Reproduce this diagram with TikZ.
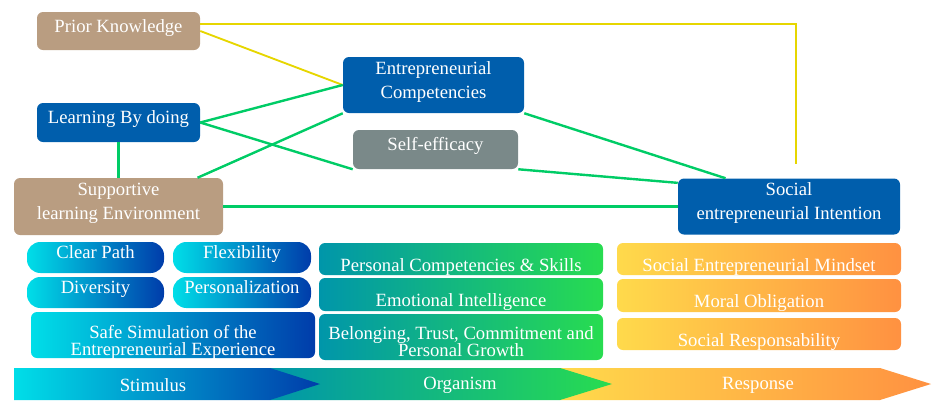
\documentclass[tikz,border=0pt]{standalone}
\usepackage{fontspec}
\setmainfont{Liberation Serif}
\definecolor{tanbg}{RGB}{185,157,129}
\definecolor{bluebg}{RGB}{0,94,172}
\definecolor{graybg}{RGB}{122,137,137}
\definecolor{greenln}{RGB}{0,204,102}
\definecolor{yellowln}{RGB}{230,214,0}
\definecolor{cyanA}{RGB}{0,222,232}
\definecolor{blueA}{RGB}{0,60,170}
\definecolor{tealA}{RGB}{0,150,170}
\definecolor{greenA}{RGB}{40,220,80}
\definecolor{yellowA}{RGB}{255,218,75}
\definecolor{orangeA}{RGB}{255,145,65}
\newcommand\tightlines{\fontsize{14}{12.5}\selectfont\lineskiplimit-20pt\relax}
\begin{document}
\begin{tikzpicture}[x=0.75pt,y=-0.75pt,
    box/.style={rounded corners=4.5pt,text=white,align=center,inner sep=0pt,
        font=\fontsize{14}{18}\selectfont},
    lbl/.style={text=white,align=center,inner sep=0pt,font=\fontsize{14}{18}\selectfont},
    tanbox/.style={box,fill=tanbg},
    bluebox/.style={box,fill=bluebg},
    graybox/.style={box,fill=graybg},
    upper/.style={text height=10pt,text depth=8.5pt},
    stimbox/.style={box,upper,left color=cyanA,right color=blueA},
    orgbox/.style={box,left color=tealA,right color=greenA,minimum width=213pt,text height=18pt,text depth=0pt},
    resbox/.style={box,left color=yellowA,right color=orangeA,minimum width=213pt,text height=18pt,text depth=0pt},
    gline/.style={greenln,line width=1.8pt},
    yline/.style={yellowln,line width=1.4pt},
    bandtext/.style={text=white,font=\fontsize{14}{18}\selectfont}]
    \useasboundingbox (0,0) rectangle (944,411);
    %% Constructs
    \node[tanbox,upper,minimum width=122.25pt,minimum height=28.5pt] (prior) at (118.5,31) {Prior Knowledge};
    \node[bluebox,upper,minimum width=122.25pt,minimum height=29.25pt] (learn) at (118.5,122.5) {Learning By doing};
    \node[tanbox,minimum width=156.75pt,minimum height=42.75pt,
        label={[lbl,yshift=2.5pt]center:{Supportive\\learning Environment}}] (support) at (118.5,206.5) {};
    \node[bluebox,minimum width=135.75pt,minimum height=42pt,
        label={[lbl,yshift=2.5pt]center:{Entrepreneurial\\Competencies}}] (comp) at (433.5,85) {};
    \node[graybox,upper,minimum width=123.75pt,minimum height=29.25pt] (self) at (435.5,149.5) {Self-efficacy};
    \node[bluebox,minimum width=166.5pt,minimum height=42pt,
        label={[lbl,yshift=2.5pt]center:{Social\\entrepreneurial Intention}}] (intent) at (789,206.5) {};
    \coordinate (yend) at (796,164);
    %% Relations
    \draw[yline] (prior.5) -| (yend);
    \draw[yline] (prior.east) -- (comp.west);
    \draw[gline] (learn.east) -- (comp.west);
    \draw[gline] (learn.east) -- (self.south west);
    \draw[gline] (learn.south) -- (support.north);
    \draw[gline] (support.20) -- (comp.south west);
    \draw[gline] (support.east) -- (intent.west);
    \draw[gline] (comp.south east) -- (intent.156);
    \draw[gline] (self.south east) -- (intent.168);
    %% Stimulus
    \node[stimbox,rounded corners=10pt,minimum width=102.75pt,minimum height=23.25pt] (clear) at (95.5,257.5) {Clear Path};
    \node[stimbox,rounded corners=10pt,minimum width=103.5pt,minimum height=23.25pt] (flex) at (242,257.5) {Flexibility};
    \node[stimbox,rounded corners=10pt,minimum width=102.75pt,minimum height=23.25pt] (diverse) at (95.5,292.5) {Diversity};
    \node[stimbox,rounded corners=10pt,minimum width=103.5pt,minimum height=23.25pt] (person) at (242,292.5) {Personalization};
    \node[box,left color=cyanA,right color=blueA,minimum width=213pt,minimum height=34.5pt,
        label={[lbl,yshift=-5.5pt,font=\fontsize{14}{12.5}\selectfont]center:{Safe Simulation of the\\Entrepreneurial Experience}}] (safe) at (173,335) {};
    %% Organism
    \node[orgbox,minimum height=24pt] (skills) at (461,259) {Personal Competencies \& Skills};
    \node[orgbox,minimum height=24.75pt] (emotion) at (461,294.5) {Emotional Intelligence};
    \node[box,left color=tealA,right color=greenA,minimum width=213pt,minimum height=34.5pt,
        label={[lbl,yshift=-3.5pt,font=\tightlines]center:{Belonging, Trust, Commitment and\\Personal Growth}}] (belong) at (461,337) {};
    %% Response
    \node[resbox,minimum height=24pt] (mindset) at (759,259) {Social Entrepreneurial Mindset};
    \node[resbox,minimum height=24.75pt] (moral) at (759,295.5) {Moral Obligation};
    \node[resbox,minimum height=24pt] (respons) at (759,334) {Social Responsability};
    %% S-O-R band
    \shade[left color=yellowA,right color=orangeA] (560,368) -- (880,368) -- (931,384) -- (880,400) -- (560,400) -- cycle;
    \shade[left color=tealA,right color=greenA] (270,368) -- (560,368) -- (612,384) -- (560,400) -- (270,400) -- cycle;
    \shade[left color=cyanA,right color=blueA] (14,368) -- (270,368) -- (320,384) -- (270,400) -- (14,400) -- cycle;
    \node[bandtext] (stim) at (153,385) {Stimulus};
    \node[bandtext] (organ) at (460,385) {Organism};
    \node[bandtext] (resp) at (758,385) {Response};
\end{tikzpicture}
\end{document}
